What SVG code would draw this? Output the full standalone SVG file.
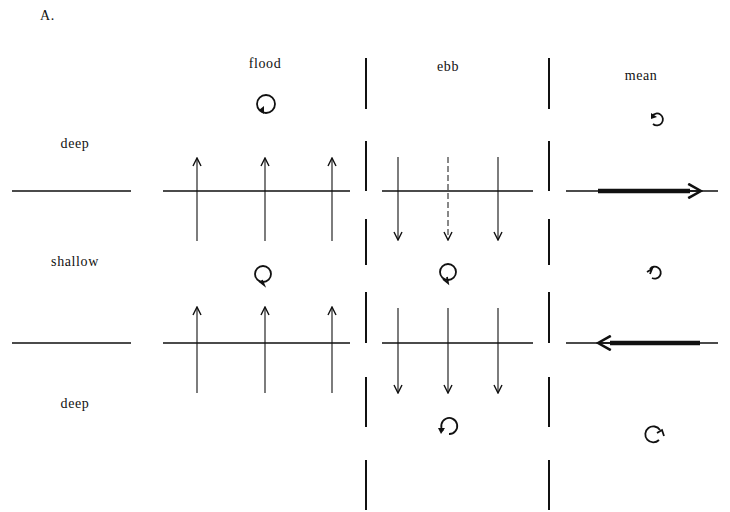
<svg xmlns="http://www.w3.org/2000/svg" width="730" height="512" viewBox="0 0 730 512">
<style>
text{font-family:"Liberation Serif","DejaVu Serif",serif;font-size:14px;letter-spacing:0.6px;fill:#111;text-anchor:middle}
.ln{stroke:#111;stroke-width:1.6;fill:none}
.th{stroke:#111;stroke-width:1.1;fill:none}
.sep{stroke:#111;stroke-width:2;fill:none}
.dash{stroke:#111;stroke-width:1;fill:none;stroke-dasharray:6 3}
.bold{stroke:#111;stroke-width:4.5;fill:none}
.circ{stroke:#111;stroke-width:1.8;fill:none}
</style>
<defs>
<marker id="ah" viewBox="0 0 10 10" refX="9" refY="5" markerWidth="10" markerHeight="10" markerUnits="userSpaceOnUse" orient="auto">
<path d="M1,1 L9,5 L1,9" fill="none" stroke="#111" stroke-width="1.4"/>
</marker>
<marker id="ahb" viewBox="0 0 10 10" refX="9" refY="5" markerWidth="16" markerHeight="16" markerUnits="userSpaceOnUse" orient="auto">
<path d="M1,0.5 L9,5 L1,9.5" fill="none" stroke="#111" stroke-width="1.6"/>
</marker>
</defs>
<g id="labels">
<text x="40" y="20" style="text-anchor:start">A.</text>
<text x="265" y="68">flood</text>
<text x="448" y="71">ebb</text>
<text x="641" y="80">mean</text>
<text x="75" y="148">deep</text>
<text x="75" y="266">shallow</text>
<text x="75" y="408">deep</text>
</g>
<g id="separators">
<path class="sep" d="M366,58V109M366,141V191M366,219V265M366,292V343M366,377V427M366,460V510"/>
<path class="sep" d="M549,58V109M549,141V191M549,219V265M549,292V343M549,377V427M549,460V510"/>
</g>
<g id="interfaces">
<path class="ln" d="M12,191H131M163,191H350M382,191H533M566,191H718"/>
<path class="ln" d="M12,343H131M163,343H350M382,343H533M566,343H718"/>
</g>
<g id="connectors">
<path class="th" marker-end="url(#ah)" d="M197,241V158"/>
<path class="th" marker-end="url(#ah)" d="M265,241V158"/>
<path class="th" marker-end="url(#ah)" d="M332,241V158"/>
<path class="th" marker-end="url(#ah)" d="M197,393V307"/>
<path class="th" marker-end="url(#ah)" d="M265,393V307"/>
<path class="th" marker-end="url(#ah)" d="M332,393V307"/>
<path class="th" marker-end="url(#ah)" d="M398,157V240"/>
<path class="dash" marker-end="url(#ah)" d="M448,157V240"/>
<path class="th" marker-end="url(#ah)" d="M498,157V240"/>
<path class="th" marker-end="url(#ah)" d="M398,308V393"/>
<path class="th" marker-end="url(#ah)" d="M448,308V393"/>
<path class="th" marker-end="url(#ah)" d="M498,308V393"/>
<path class="bold" d="M598,191H690"/>
<path class="ln" marker-end="url(#ahb)" d="M660,191H701"/>
<path class="bold" d="M610,343H700"/>
<path class="ln" marker-end="url(#ahb)" d="M640,343H598"/>
</g>
<g id="eddies">
<g id="e1"><circle class="circ" cx="266" cy="104" r="9"/><path d="M259,110 L264,114 L264,106 Z" fill="#111"/></g>
<g id="e2"><path class="circ" d="M652,116 A6,6 0 1 1 653,124"/><path d="M651,113 L657,117 L651,119 Z" fill="#111"/></g>
<g id="e3"><circle class="circ" cx="263" cy="274" r="8"/><path class="circ" d="M259,281 L264,285 L262,280"/></g>
<g id="e4"><circle class="circ" cx="448" cy="272" r="8"/><path class="circ" d="M443,279 L448,283 L447,277"/></g>
<g id="e5"><path class="circ" d="M650,269 A6,6 0 1 1 652,278"/><path class="circ" d="M647,272 L652,269 L650,274"/></g>
<g id="e6"><path class="circ" d="M443,431 A8,8 0 1 1 449,434"/><path d="M438,428 L445,428 L441,434 Z" fill="#111"/></g>
<g id="e7"><path class="circ" d="M659,440 A8,8 0 1 1 660,430"/><path class="circ" d="M657,433 L662,430 L664,436"/></g>
</g>
</svg>
